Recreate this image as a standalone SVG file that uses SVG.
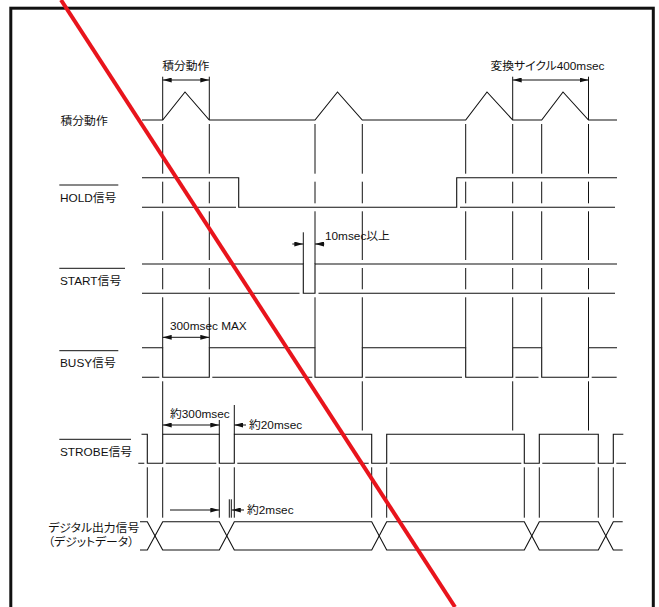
<svg xmlns="http://www.w3.org/2000/svg" width="659" height="607" viewBox="0 0 659 607">
<style>
text{font-family:"Liberation Sans","Noto Sans CJK JP",sans-serif;font-size:11.8px;fill:#111;font-feature-settings:"palt";}
.w{fill:none;stroke:#111;stroke-width:1.1;stroke-linejoin:miter}
.g{fill:none;stroke:#111;stroke-width:1}
.d{fill:none;stroke:#111;stroke-width:1}
.ol{stroke:#111;stroke-width:1}
</style>
<defs>
<marker id="ah" markerUnits="userSpaceOnUse" markerWidth="9" markerHeight="5" refX="8" refY="2.2" orient="auto-start-reverse" viewBox="0 0 8 4.4">
<path d="M0,0 L8,2.2 L0,4.4 z" fill="#111"/>
</marker>
</defs>
<rect x="0" y="0" width="659" height="607" fill="#fff"/>
<rect id="frame" x="10.8" y="8.2" width="642.5" height="612" fill="none" stroke="#111" stroke-width="3"/>

<g id="sig-integ">
<text x="60.5" y="125">積分動作</text>
<polyline class="w" points="142,120 162.7,120 185,92 209.3,120 315,120 337.5,92 362.3,120 465.7,120 487,92 512.7,120 541.7,120 563,92 588.5,120 617,120"/>
</g>
<g id="sig-hold">
<text x="60" y="201.7">HOLD信号</text>
<line class="ol" x1="59.3" y1="185" x2="118.3" y2="185"/>
<polyline class="w" points="142,177.7 238.7,177.7 238.7,207.3 456.7,207.3 456.7,177.7 617,177.7"/>
<path class="w" d="M142,207.3 H236 M460,207.3 H615"/>
</g>
<g id="sig-start">
<text x="60" y="285">START信号</text>
<line class="ol" x1="59.3" y1="268.3" x2="125" y2="268.3"/>
<polyline class="w" points="142,264 303.3,264 303.3,293.3 315,293.3 315,264 617,264"/>
<path class="w" d="M142,293.3 H299.5 M318.5,293.3 H615"/>
</g>
<g id="sig-busy">
<text x="60" y="367">BUSY信号</text>
<line class="ol" x1="59.3" y1="350.7" x2="118.3" y2="350.7"/>
<polyline class="w" points="142,347.7 162.7,347.7 162.7,377.3 209.3,377.3 209.3,347.7 315,347.7 315,377.3 362.3,377.3 362.3,347.7 465.7,347.7 465.7,377.3 512.7,377.3 512.7,347.7 541.7,347.7 541.7,377.3 588.5,377.3 588.5,347.7 617,347.7"/>
<path class="w" d="M142,377.3 H159.3 M212.3,377.3 H312.3 M365.3,377.3 H462 M515.5,377.3 H538.5 M591.7,377.3 H616.7"/>
</g>
<g id="sig-strobe">
<text x="60" y="456">STROBE信号</text>
<line class="ol" x1="59.3" y1="439.3" x2="131" y2="439.3"/>
<polyline class="w" points="141.5,434.3 147.3,434.3 147.3,463.3 162.7,463.3 162.7,434.3 219.3,434.3 219.3,463.3 234.3,463.3 234.3,434.3 371.7,434.3 371.7,463.3 386.7,463.3 386.7,434.3 524.3,434.3 524.3,463.3 539.3,463.3 539.3,434.3 598.3,434.3 598.3,463.3 613.3,463.3 613.3,434.3 623.3,434.3"/>
<path class="w" d="M138.3,463.3 H144.3 M165.7,463.3 H216.3 M237.3,463.3 H368.7 M389.7,463.3 H521.3 M542.3,463.3 H595.3 M616.3,463.3 H626"/>
</g>
<g id="sig-digital">
<text x="48.3" y="532">デジタル出力信号</text>
<text x="48.3" y="545.5">（デジットデータ）</text>
<path class="w" d="M140,521.7 H147.3 L162.7,550 H219.3 L234.3,521.7 H371.7 L386.7,550 H524.3 L539.3,521.7 H598.3 L613.3,550 H622.7"/>
<path class="w" d="M140,550 H147.3 L162.7,521.7 H219.3 L234.3,550 H371.7 L386.7,521.7 H524.3 L539.3,550 H598.3 L613.3,521.7 H622.7"/>
</g>

<g id="connectors">
<path class="g" d="M162.7,76.7 V120 M162.7,124 V173.7 M162.7,181.7 V203.3 M162.7,211.3 V260 M162.7,268 V289.3 M162.7,297.3 V347.7 M162.7,381.3 V434.3 M162.7,467.3 V517.7"/>
<path class="g" d="M209.3,76.7 V120 M209.3,124 V173.7 M209.3,181.7 V203.3 M209.3,211.3 V260 M209.3,268 V289.3 M209.3,297.3 V347.7"/>
<path class="g" d="M315,124 V173.7 M315,181.7 V203.3 M315,211.3 V264 M315,297.3 V347.7"/>
<path class="g" d="M362.3,124 V173.7 M362.3,181.7 V203.3 M362.3,211.3 V260 M362.3,268 V289.3 M362.3,297.3 V347.7 M362.3,381.3 V430.5"/>
<path class="g" d="M465.7,124 V173.7 M465.7,181.7 V203.3 M465.7,211.3 V260 M465.7,268 V289.3 M465.7,297.3 V347.7"/>
<path class="g" d="M512.7,76.7 V120 M512.7,124 V173.7 M512.7,181.7 V203.3 M512.7,211.3 V260 M512.7,268 V289.3 M512.7,297.3 V347.7 M512.7,381.3 V430.5"/>
<path class="g" d="M541.7,124 V173.7 M541.7,181.7 V203.3 M541.7,211.3 V260 M541.7,268 V289.3 M541.7,297.3 V347.7"/>
<path class="g" d="M588.5,76.7 V120 M588.5,124 V173.7 M588.5,181.7 V203.3 M588.5,211.3 V260 M588.5,268 V289.3 M588.5,297.3 V347.7 M588.5,381.3 V430.5"/>
<path class="g" d="M147.3,467.3 V517.7 M219.3,467.3 V517.7 M234.3,467.3 V517.7 M371.7,467.3 V517.7 M386.7,467.3 V517.7 M524.3,467.3 V517.7 M539.3,467.3 V517.7 M598.3,467.3 V517.7 M613.3,467.3 V517.7"/>
<path class="g" d="M303.3,232.3 V264 M219.3,420 V434.3 M234.3,405 V434.3 M229.3,499.3 V517.7 M231.3,499.3 V517.7"/>
</g>

<g id="dim-integ">
<line class="d" x1="162.7" y1="80" x2="209.3" y2="80" marker-start="url(#ah)" marker-end="url(#ah)"/>
<text x="185.8" y="70" text-anchor="middle">積分動作</text>
</g>
<g id="dim-cycle">
<line class="d" x1="512.7" y1="80" x2="588.5" y2="80" marker-start="url(#ah)" marker-end="url(#ah)"/>
<text x="547.5" y="70" text-anchor="middle">変換サイクル400msec</text>
</g>
<g id="dim-10ms">
<line class="d" x1="292.3" y1="244" x2="303.3" y2="244" marker-end="url(#ah)"/>
<line class="d" x1="324.3" y1="244" x2="315" y2="244" marker-end="url(#ah)"/>
<text x="325" y="239.5">10msec以上</text>
</g>
<g id="dim-300max">
<line class="d" x1="162.7" y1="337.3" x2="209.3" y2="337.3" marker-start="url(#ah)" marker-end="url(#ah)"/>
<text x="170" y="329.5">300msec MAX</text>
</g>
<g id="dim-300">
<line class="d" x1="162.7" y1="425" x2="219.3" y2="425" marker-start="url(#ah)" marker-end="url(#ah)"/>
<text x="170" y="417.5">約300msec</text>
</g>
<g id="dim-20">
<line class="d" x1="246" y1="425" x2="234.3" y2="425" marker-end="url(#ah)"/>
<text x="249" y="428.7">約20msec</text>
</g>
<g id="dim-2">
<line class="d" x1="170" y1="510" x2="219.3" y2="510" marker-end="url(#ah)"/>
<line class="d" x1="244" y1="510" x2="231.8" y2="510" marker-end="url(#ah)"/>
<text x="247" y="514">約2msec</text>
</g>

<line id="strike" x1="61" y1="0" x2="455" y2="607" stroke="#e8141c" stroke-width="4"/>
</svg>
